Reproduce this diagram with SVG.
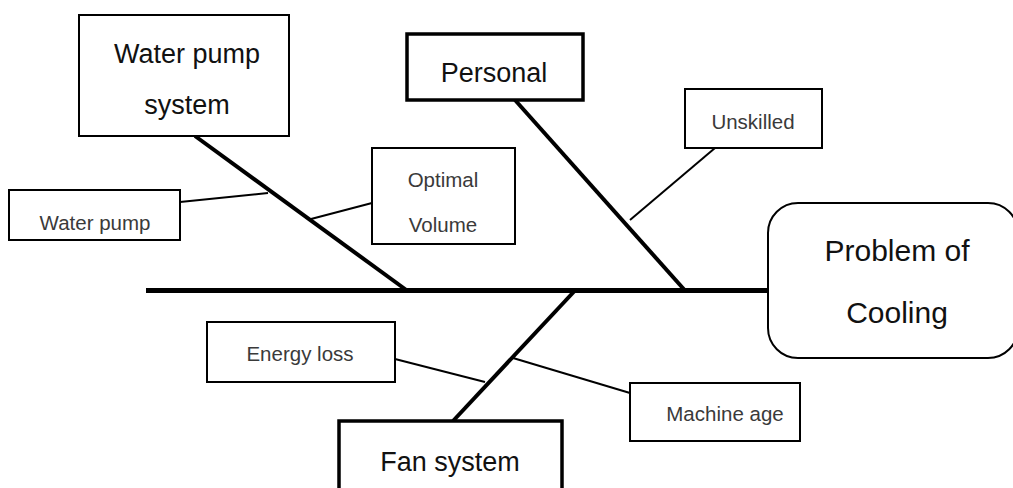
<svg xmlns="http://www.w3.org/2000/svg" width="1013" height="488" viewBox="0 0 1013 488">
<style>
.box{fill:#fff;stroke:#000;stroke-width:2}
.thick{stroke-width:3.5}
.big{font-family:"Liberation Sans",Arial,sans-serif;font-size:27px;fill:#111;text-anchor:middle}
.small{font-family:"Liberation Sans",Arial,sans-serif;font-size:20.5px;fill:#3a3a3a;text-anchor:middle}
.bone{stroke:#000;stroke-width:4;fill:none}
.spine{stroke:#000;stroke-width:5;fill:none}
.sub{stroke:#000;stroke-width:2;fill:none}
</style>
<rect width="1013" height="488" fill="#fff"/>
<g id="connectors">
  <line class="spine" x1="146" y1="290.5" x2="770" y2="290.5"/>
  <line class="bone" x1="195" y1="136" x2="407" y2="290.5"/>
  <line class="bone" x1="515" y1="100" x2="685" y2="290.5"/>
  <line class="bone" x1="453" y1="421" x2="575" y2="290.5"/>
  <line class="sub" x1="180" y1="202" x2="268" y2="193"/>
  <line class="sub" x1="372" y1="203" x2="311" y2="219"/>
  <line class="sub" x1="715" y1="148" x2="630" y2="220"/>
  <line class="sub" x1="395" y1="359" x2="485" y2="382"/>
  <line class="sub" x1="513" y1="358" x2="630" y2="393"/>
</g>
<g id="water-pump-system">
  <rect class="box" x="79" y="15" width="210" height="121"/>
  <text class="big" x="187" y="63">Water pump</text>
  <text class="big" x="187" y="114">system</text>
</g>
<g id="personal">
  <rect class="box thick" x="407" y="34" width="176" height="66"/>
  <text class="big" x="494" y="82">Personal</text>
</g>
<g id="fan-system">
  <rect class="box thick" x="339" y="421" width="223" height="80"/>
  <text class="big" x="450" y="471">Fan system</text>
</g>
<g id="problem">
  <rect class="box" x="768" y="203" width="250" height="155" rx="30" ry="30"/>
  <text class="big" x="897" y="261" style="font-size:30px">Problem of</text>
  <text class="big" x="897" y="323" style="font-size:30px">Cooling</text>
</g>
<g id="water-pump">
  <rect class="box" x="9" y="190" width="171" height="50"/>
  <text class="small" x="95" y="230">Water pump</text>
</g>
<g id="optimal-volume">
  <rect class="box" x="372" y="148" width="143" height="96"/>
  <text class="small" x="443" y="187">Optimal</text>
  <text class="small" x="443" y="232">Volume</text>
</g>
<g id="unskilled">
  <rect class="box" x="685" y="89" width="137" height="59"/>
  <text class="small" x="753" y="129">Unskilled</text>
</g>
<g id="energy-loss">
  <rect class="box" x="207" y="322" width="188" height="60"/>
  <text class="small" x="300" y="361">Energy loss</text>
</g>
<g id="machine-age">
  <rect class="box" x="630" y="383" width="170" height="58"/>
  <text class="small" x="725" y="421">Machine age</text>
</g>
</svg>
